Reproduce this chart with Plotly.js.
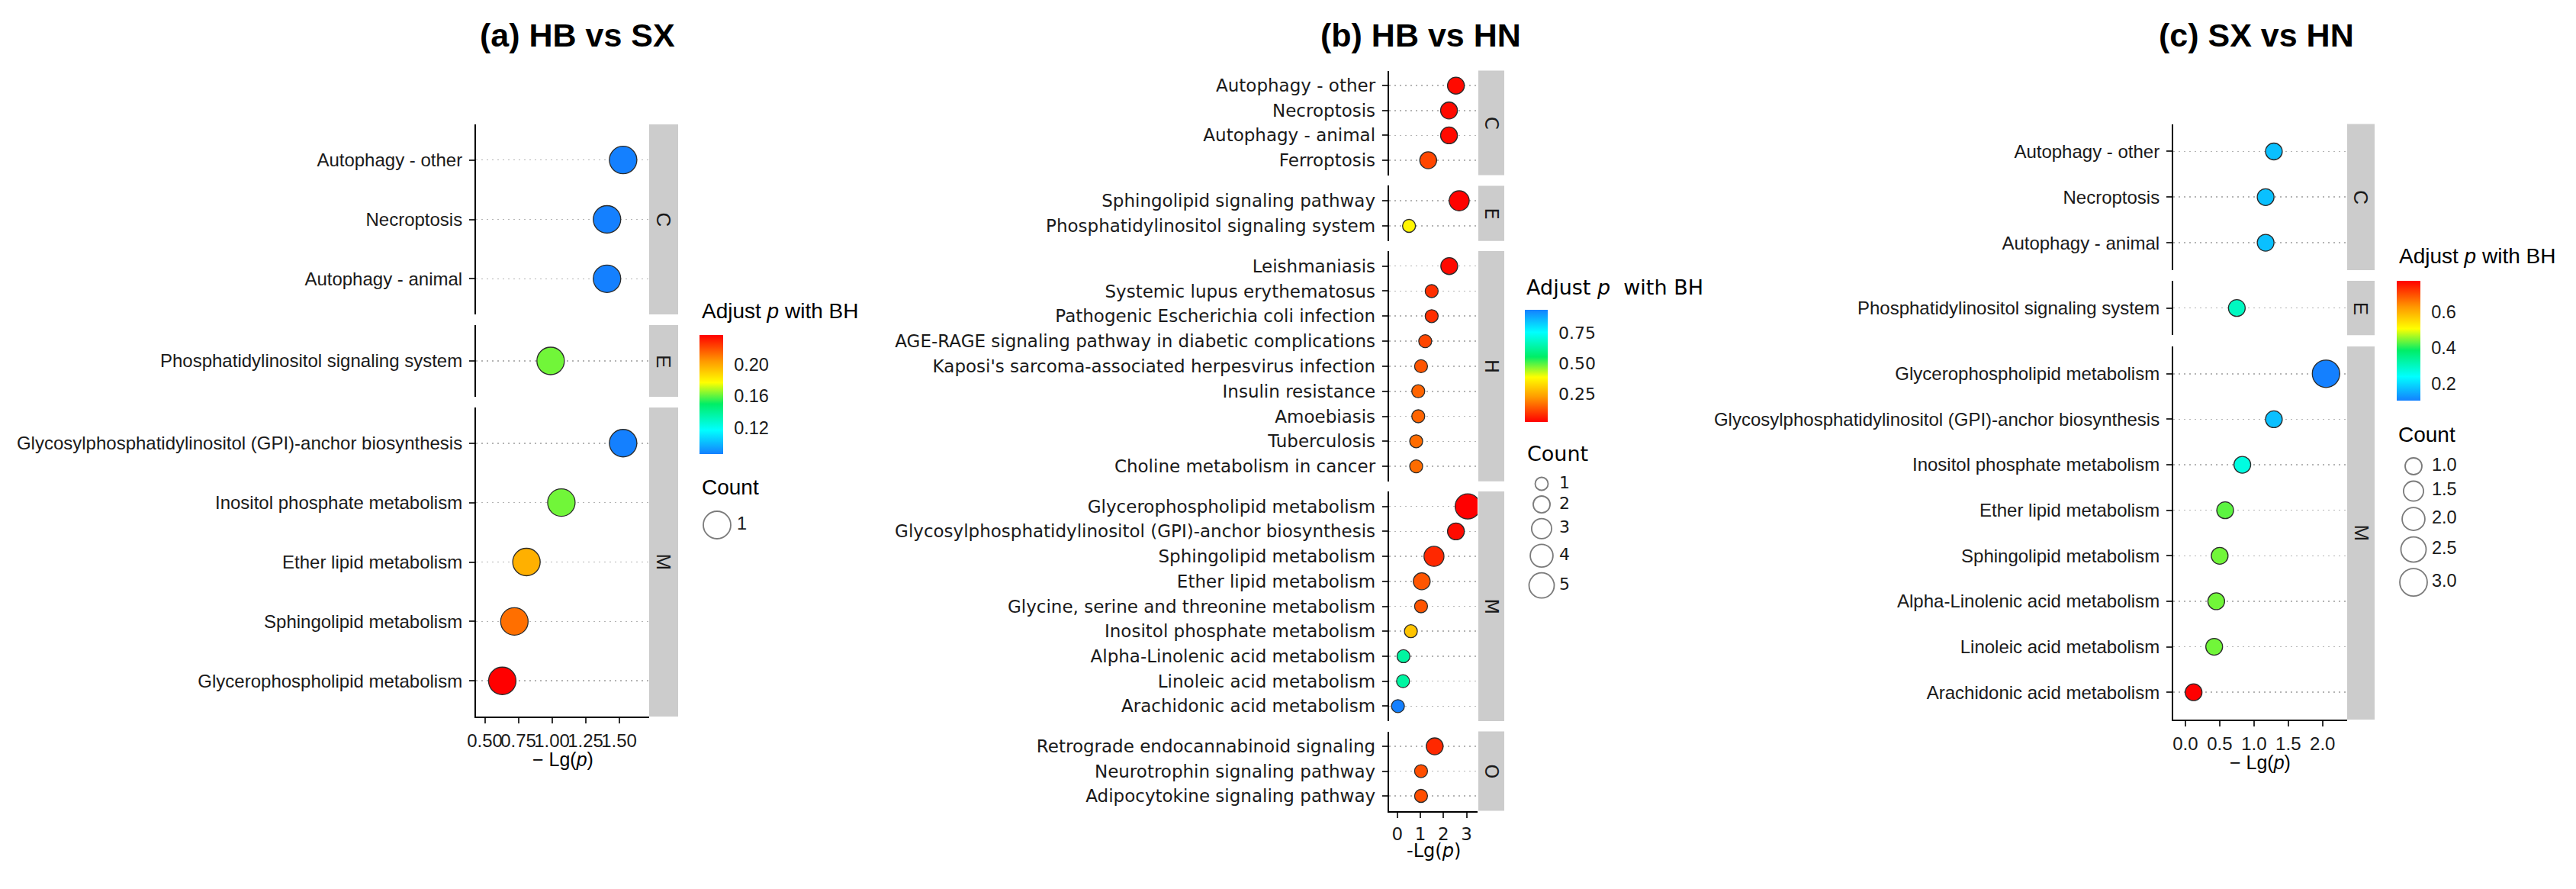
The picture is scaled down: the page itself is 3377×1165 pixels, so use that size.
<!DOCTYPE html>
<html><head><meta charset="utf-8">
<script src="https://cdn.plot.ly/plotly-3.0.1.min.js"></script>
<style>html,body{margin:0;padding:0;background:#fff}</style>
</head><body><div id="chart" style="width:3377px;height:1165px"></div>
<script>
// ---------- DATA ----------
// (a) HB vs SX
const termsA = ["Autophagy - other","Necroptosis","Autophagy - animal","Phosphatidylinositol signaling system","Glycosylphosphatidylinositol (GPI)-anchor biosynthesis","Inositol phosphate metabolism","Ether lipid metabolism","Sphingolipid metabolism","Glycerophospholipid metabolism"];
const classA = ["C","C","C","E","M","M","M","M","M"];
const lgpA = [1.53,1.41,1.41,0.99,1.53,1.07,0.81,0.72,0.63];
const padjA = [0.087,0.087,0.087,0.162,0.087,0.162,0.198,0.213,0.237];
const countA = [1,1,1,1,1,1,1,1,1];

// (b) HB vs HN
const termsB = ["Autophagy - other","Necroptosis","Autophagy - animal","Ferroptosis",
 "Sphingolipid signaling pathway","Phosphatidylinositol signaling system",
 "Leishmaniasis","Systemic lupus erythematosus","Pathogenic Escherichia coli infection","AGE-RAGE signaling pathway in diabetic complications","Kaposi's sarcoma-associated herpesvirus infection","Insulin resistance","Amoebiasis","Tuberculosis","Choline metabolism in cancer",
 "Glycerophospholipid metabolism","Glycosylphosphatidylinositol (GPI)-anchor biosynthesis","Sphingolipid metabolism","Ether lipid metabolism","Glycine, serine and threonine metabolism","Inositol phosphate metabolism","Alpha-Linolenic acid metabolism","Linoleic acid metabolism","Arachidonic acid metabolism",
 "Retrograde endocannabinoid signaling","Neurotrophin signaling pathway","Adipocytokine signaling pathway"];
const classB = ["C","C","C","C","E","E","H","H","H","H","H","H","H","H","H","M","M","M","M","M","M","M","M","M","O","O","O"];
const lgpB = [2.54,2.24,2.24,1.34,2.68,0.51,2.25,1.49,1.49,1.21,1.03,0.91,0.91,0.82,0.82,3.05,2.54,1.59,1.06,1.03,0.59,0.27,0.25,0.03,1.62,1.03,1.03];
const padjB = [0.03,0.03,0.03,0.11,0.02,0.37,0.03,0.08,0.08,0.11,0.13,0.15,0.15,0.16,0.16,0.017,0.03,0.07,0.13,0.13,0.29,0.63,0.63,0.94,0.07,0.12,0.12];
const countB = [2,2,2,2,3,1,2,1,1,1,1,1,1,1,1,5,2,3,2,1,1,1,1,1,2,1,1];

// (c) SX vs HN
const termsC = ["Autophagy - other","Necroptosis","Autophagy - animal","Phosphatidylinositol signaling system","Glycerophospholipid metabolism","Glycosylphosphatidylinositol (GPI)-anchor biosynthesis","Inositol phosphate metabolism","Ether lipid metabolism","Sphingolipid metabolism","Alpha-Linolenic acid metabolism","Linoleic acid metabolism","Arachidonic acid metabolism"];
const classC = ["C","C","C","E","M","M","M","M","M","M","M","M"];
const lgpC = [1.29,1.17,1.17,0.75,2.05,1.29,0.83,0.58,0.50,0.45,0.42,0.12];
const padjC = [0.175,0.175,0.175,0.30,0.108,0.175,0.27,0.43,0.44,0.44,0.44,0.772];
const countC = [1,1,1,1,3,1,1,1,1,1,1,1];

// ticks / breaks
const xTicksA = [0.5,0.75,1.0,1.25,1.5];
const xTicksB = [0,1,2,3];
const xTicksC = [0,0.5,1.0,1.5,2.0];
const cbTicksA = [0.12,0.16,0.20];
const cbTicksB = [0.25,0.50,0.75];
const cbTicksC = [0.2,0.4,0.6];
const sizeBreaksA = [1];
const sizeBreaksB = [1,2,3,4,5];
const sizeBreaksC = [1.0,1.5,2.0,2.5,3.0];

// ---------- LAYOUT / STYLE ----------
const W = 3377, H = 1165;
const FA = "Liberation Sans, Arial, sans-serif";
const FB = "DejaVu Sans, sans-serif";
const rainbow = [[0,'#1480FF'],[0.2,'#00FFFF'],[0.42,'#00EE66'],[0.6,'#FFFF00'],[0.78,'#FF9900'],[1,'#FF0000']];

const panels = [
 {title:'(a) HB vs SX', titleXY:[757,46], font:FA, tfs:24, lfs:28, lts:23.5, stfs:26,
  legText:'Adjust <i>p</i> with BH',
  terms:termsA, cls:classA, lg:lgpA, padj:padjA, count:countA, order:['C','E','M'],
  xPix:[624,851], facets:[[163,412],[426,520],[534,939]], strip:[851,889],
  xrange:[0.434,1.724], xticks:xTicksA, xfmt:'.2f', xtitle:'\u2212 Lg(<i>p</i>)', xtitleXY:[737.5,995],
  reverse:false, cb:{x:917,y:439,w:31,h:156,ticks:cbTicksA,fmt:'.2f'},
  legTitle:[918,407], countTitle:[918,638], dRange:[36,36], breaks:sizeBreaksA, dec:0,
  leg:{cx:940, firstY:688, lx:966, gap:8}},
 {title:'(b) HB vs HN', titleXY:[1863,46], font:FB, tfs:23, lfs:27, lts:22, stfs:24,
  legText:'Adjust <i>p</i>\u00a0\u00a0with BH',
  terms:termsB, cls:classB, lg:lgpB, padj:padjB, count:countB, order:['C','E','H','M','O'],
  xPix:[1820.7,1937], facets:[[92.6,229.6],[243.4,315.7],[329,630.8],[644,945],[958.6,1062.5]], strip:[1938,1972],
  xrange:[-0.363,3.475], xticks:xTicksB, xfmt:'d', xtitle:'-Lg(<i>p</i>)', xtitleXY:[1879,1115],
  reverse:true, cb:{x:1999,y:406,w:30,h:147,ticks:cbTicksB,fmt:'.2f'},
  legTitle:[1999,377], countTitle:[2000,594], dRange:[17,33], breaks:sizeBreaksB, dec:0,
  leg:{cx:2021, firstY:634, lx:2044, gap:7.5}},
 {title:'(c) SX vs HN', titleXY:[2958,46], font:FA, tfs:24, lfs:28, lts:23.5, stfs:26,
  legText:'Adjust <i>p</i> with BH',
  terms:termsC, cls:classC, lg:lgpC, padj:padjC, count:countC, order:['C','E','M'],
  xPix:[2849,3076.7], facets:[[162.6,354],[368,439.3],[454,943]], strip:[3077,3113],
  xrange:[-0.177,2.355], xticks:xTicksC, xfmt:'.1f', xtitle:'\u2212 Lg(<i>p</i>)', xtitleXY:[2963,999],
  reverse:false, cb:{x:3142,y:368,w:31,h:157,ticks:cbTicksC,fmt:'.1f'},
  legTitle:[3143,335], countTitle:[3142,569], dRange:[22,36], breaks:sizeBreaksC, dec:1,
  leg:{cx:3164, firstY:611, lx:3188, gap:8.5}}
];

const traces = [];
const layout = {width:W, height:H, margin:{l:0,r:0,t:0,b:0}, paper_bgcolor:'#ffffff',
  plot_bgcolor:'rgba(0,0,0,0)', showlegend:false, annotations:[], shapes:[], hovermode:false};

let ax = 1;
const LEGAX = 12;
panels.forEach((p, pi) => {
  const cmin = Math.min(...p.count), cmax = Math.max(...p.count);
  const sf = c => (cmax === cmin) ? (p.dRange[0]+p.dRange[1])/2 :
     Math.sqrt(p.dRange[0]**2 + (c-cmin)/(cmax-cmin)*(p.dRange[1]**2 - p.dRange[0]**2));
  const caKey = pi === 0 ? 'coloraxis' : 'coloraxis' + (pi+1);
  layout[caKey] = {cmin:Math.min(...p.padj), cmax:Math.max(...p.padj), colorscale:rainbow, reversescale:p.reverse,
    colorbar:{x:p.cb.x/W, xanchor:'left', xref:'paper', y:1-p.cb.y/H, yanchor:'top', yref:'paper',
      len:p.cb.h, lenmode:'pixels', thickness:p.cb.w, thicknessmode:'pixels', outlinewidth:0, xpad:0, ypad:0,
      tickvals:p.cb.ticks, tickformat:p.cb.fmt, ticks:'outside', ticklen:10, tickcolor:'rgba(0,0,0,0)',
      tickfont:{family:p.font, size:p.lts, color:'#1a1a1a'}, title:{text:''}}};

  p.order.forEach((g, fi) => {
    const idx = p.cls.map((v,i)=> v===g ? i : -1).filter(i=>i>=0);
    const terms = idx.map(i=>p.terms[i]);
    const xr = ax===1 ? 'x' : 'x'+ax, yr = ax===1 ? 'y' : 'y'+ax;
    const xk = ax===1 ? 'xaxis' : 'xaxis'+ax, yk = ax===1 ? 'yaxis' : 'yaxis'+ax;
    traces.push({type:'scatter', mode:'markers', x:idx.map(i=>p.lg[i]), y:terms, xaxis:xr, yaxis:yr,
      marker:{size:idx.map(i=>sf(p.count[i])), color:idx.map(i=>p.padj[i]), coloraxis:caKey,
        line:{color:'#2b2b2b', width:1.3}, opacity:1}, hoverinfo:'skip'});
    const [top, bot] = p.facets[fi];
    const isBottom = fi === p.order.length-1;
    layout[xk] = {domain:[p.xPix[0]/W, p.xPix[1]/W], anchor:yr, range:p.xrange, visible:isBottom,
      showline:true, linecolor:'#000', linewidth:2, ticks:'outside', ticklen:7, tickwidth:2, tickcolor:'#333',
      tickvals:p.xticks, tickformat:p.xfmt, tickangle:0, ticklabelstandoff:2,
      tickfont:{family:p.font, size:p.tfs, color:'#1a1a1a'}, showgrid:false, zeroline:false, fixedrange:true};
    layout[yk] = {domain:[1-bot/H, 1-top/H], anchor:xr, type:'category', categoryorder:'array', categoryarray:terms,
      range:[terms.length-0.4, -0.6], showline:true, linecolor:'#000', linewidth:2, ticks:'outside', ticklen:7,
      tickwidth:2, tickcolor:'#333', ticklabelstandoff:4, tickfont:{family:p.font, size:p.tfs, color:'#1a1a1a'},
      showgrid:true, gridcolor:'#b4b4b4', gridwidth:1.6, griddash:'2px,5px', zeroline:false, fixedrange:true};
    layout.shapes.push({type:'rect', xref:'paper', yref:'paper', x0:p.strip[0]/W, x1:p.strip[1]/W,
      y0:1-bot/H, y1:1-top/H, fillcolor:'#CCCCCC', line:{width:0}, layer:'below'});
    layout.annotations.push({text:g, xref:'paper', yref:'paper', x:(p.strip[0]+p.strip[1])/2/W, y:1-(top+bot)/2/H,
      textangle:90, showarrow:false, xanchor:'center', yanchor:'middle',
      font:{family:p.font, size:p.stfs, color:'#1a1a1a'}});
    ax++;
  });

  // titles
  layout.annotations.push({text:p.title, xref:'paper', yref:'paper', x:p.titleXY[0]/W, y:1-p.titleXY[1]/H,
    showarrow:false, xanchor:'center', yanchor:'middle', font:{family:FA, size:43, color:'#000', weight:'bold'}});
  layout.annotations.push({text:p.xtitle, xref:'paper', yref:'paper', x:p.xtitleXY[0]/W, y:1-p.xtitleXY[1]/H,
    showarrow:false, xanchor:'center', yanchor:'middle', font:{family:p.font, size:p.tfs+1, color:'#000'}});
  layout.annotations.push({text:p.legText, xref:'paper', yref:'paper', x:p.legTitle[0]/W, y:1-p.legTitle[1]/H,
    showarrow:false, xanchor:'left', yanchor:'middle', font:{family:p.font, size:p.lfs, color:'#000'}});
  layout.annotations.push({text:'Count', xref:'paper', yref:'paper', x:p.countTitle[0]/W, y:1-p.countTitle[1]/H,
    showarrow:false, xanchor:'left', yanchor:'middle', font:{family:p.font, size:p.lfs, color:'#000'}});

  // size legend (drawn on a hidden pixel-calibrated axis)
  const ds = p.breaks.map(sf);
  const ys = [p.leg.firstY];
  for (let i=1;i<ds.length;i++) ys.push(ys[i-1] + (ds[i-1]+ds[i])/2 + p.leg.gap);
  traces.push({type:'scatter', mode:'markers', x:ds.map(()=>p.leg.cx), y:ys, xaxis:'x'+LEGAX, yaxis:'y'+LEGAX,
    marker:{size:ds, color:'rgba(255,255,255,0)', line:{color:'#444444', width:1.8}}, cliponaxis:false, hoverinfo:'skip'});
  traces.push({type:'scatter', mode:'text', x:ds.map(()=>p.leg.lx), y:ys, xaxis:'x'+LEGAX, yaxis:'y'+LEGAX,
    text:p.breaks.map(b=>b.toFixed(p.dec)), textposition:'middle right',
    textfont:{family:p.font, size:p.lts, color:'#1a1a1a'}, cliponaxis:false, hoverinfo:'skip'});
});

layout['xaxis'+LEGAX] = {domain:[0,1], range:[0,W], visible:false, anchor:'y'+LEGAX, fixedrange:true};
layout['yaxis'+LEGAX] = {domain:[0,1], range:[H,0], visible:false, anchor:'x'+LEGAX, fixedrange:true};

Plotly.newPlot('chart', traces, layout, {staticPlot:true, displayModeBar:false});
</script>
</body></html>
